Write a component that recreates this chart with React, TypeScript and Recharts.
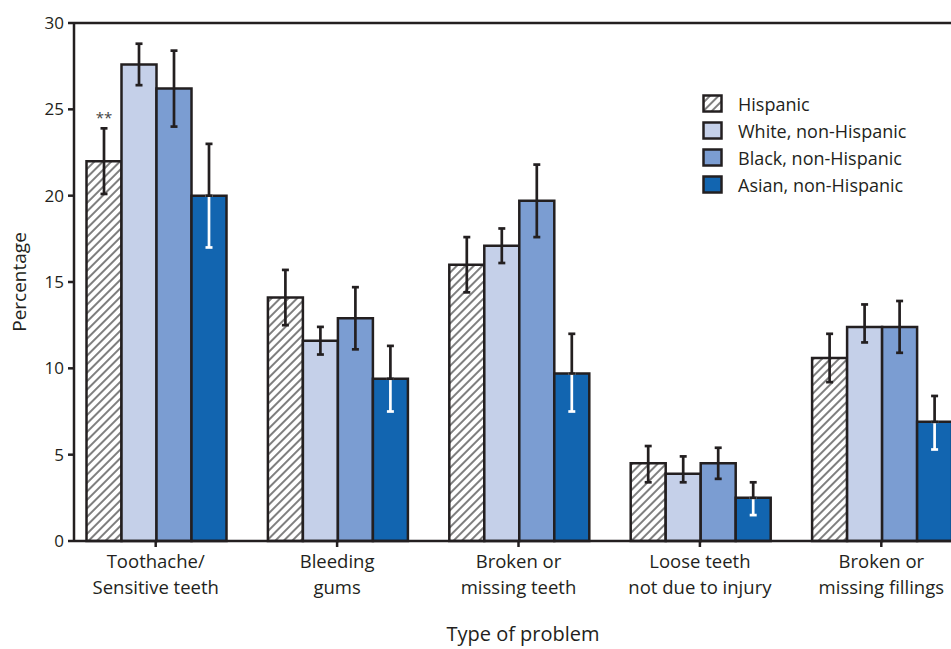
import React from "react";
import {
  BarChart,
  Bar,
  XAxis,
  YAxis,
  ErrorBar,
  ReferenceLine,
  Legend,
  LabelList,
  Label,
} from "recharts";

// ---------- data ----------
const categories = [
  "Toothache/\nSensitive teeth",
  "Bleeding\ngums",
  "Broken or\nmissing teeth",
  "Loose teeth\nnot due to injury",
  "Broken or\nmissing fillings",
];
const seriesNames = [
  "Hispanic",
  "White, non-Hispanic",
  "Black, non-Hispanic",
  "Asian, non-Hispanic",
];
const hispanic = [22.0, 14.1, 16.0, 4.5, 10.6];
const hispanicLow = [20.1, 12.5, 14.4, 3.4, 9.2];
const hispanicHigh = [23.9, 15.7, 17.6, 5.5, 12.0];
const white = [27.6, 11.6, 17.1, 3.9, 12.4];
const whiteLow = [26.4, 10.8, 16.1, 3.4, 11.5];
const whiteHigh = [28.8, 12.4, 18.1, 4.9, 13.7];
const black = [26.2, 12.9, 19.7, 4.5, 12.4];
const blackLow = [24.0, 11.1, 17.6, 3.6, 10.9];
const blackHigh = [28.4, 14.7, 21.8, 5.4, 13.9];
const asian = [20.0, 9.4, 9.7, 2.5, 6.9];
const asianLow = [17.0, 7.5, 7.5, 1.5, 5.3];
const asianHigh = [23.0, 11.3, 12.0, 3.4, 8.4];
const notes = ["**", "", "", "", ""];
const yTicks = [0, 5, 10, 15, 20, 25, 30];

// ---------- styles ----------
const FONT = "'Open Sans', 'Noto Sans', sans-serif";
const INK = "#231f20";
const COLORS = ["url(#hatch)", "#c5d0e9", "#7b9dd2", "#1265b0"];

const r1 = (v: number) => Math.round(v * 100) / 100;

const data = categories.map((name, i) => ({
  name,
  h: hispanic[i],
  hErr: [r1(hispanic[i] - hispanicLow[i]), r1(hispanicHigh[i] - hispanic[i])],
  w: white[i],
  wErr: [r1(white[i] - whiteLow[i]), r1(whiteHigh[i] - white[i])],
  b: black[i],
  bErr: [r1(black[i] - blackLow[i]), r1(blackHigh[i] - black[i])],
  a: asian[i],
  aDown: [r1(asian[i] - asianLow[i]), 0],
  aUp: [0, r1(asianHigh[i] - asian[i])],
  note: notes[i],
}));

const CatTick = (props: any) => {
  const { x, y, payload } = props;
  const lines = String(payload.value).split("\n");
  return (
    <g transform={`translate(${x},${y})`}>
      {lines.map((l, i) => (
        <text
          key={i}
          x={0}
          y={0}
          dy={19 + i * 26}
          textAnchor="middle"
          fill={INK}
          fontSize={18.5}
          fontFamily={FONT}
        >
          {l}
        </text>
      ))}
    </g>
  );
};

const LegendContent = () => (
  <div style={{ fontFamily: FONT, fontSize: 18, color: INK }}>
    {seriesNames.map((n, i) => (
      <div
        key={n}
        style={{ display: "flex", alignItems: "center", height: 27 }}
      >
        <svg width={22} height={20} style={{ marginRight: 14 }}>
          <rect
            x={1.5}
            y={1.5}
            width={18}
            height={16}
            fill={COLORS[i]}
            stroke={INK}
            strokeWidth={2.5}
          />
        </svg>
        <span>{n}</span>
      </div>
    ))}
  </div>
);

export default function App() {
  return (
    <div
      style={{
        position: "absolute",
        left: 0,
        top: 0,
        width: 951,
        height: 649,
        overflow: "hidden",
        background: "#fff",
      }}
    >
      <BarChart
        width={972}
        height={649}
        data={data}
        margin={{ top: 23, right: 0, left: 0, bottom: 0 }}
        barCategoryGap={21.5}
        barGap={0}
      >
        <defs>
          <pattern
            id="hatch"
            patternUnits="userSpaceOnUse"
            width={6}
            height={6}
            patternTransform="rotate(45)"
          >
            <rect x={0} y={0} width={6} height={6} fill="#ffffff" />
            <line x1={1} y1={0} x2={1} y2={6} stroke="#7f7f7f" strokeWidth={2} />
          </pattern>
        </defs>
        <XAxis
          dataKey="name"
          height={108}
          padding={{ left: -9, right: 0 }}
          tick={<CatTick />}
          tickSize={6}
          axisLine={{ stroke: INK, strokeWidth: 2.5 }}
          tickLine={{ stroke: INK, strokeWidth: 2.5 }}
          interval={0}
        >
          <Label
            value="Type of problem"
            position="insideBottom"
            offset={8}
            style={{ fontFamily: FONT, fontSize: 20, fill: INK }}
          />
        </XAxis>
        <YAxis
          width={74}
          domain={[0, 30]}
          ticks={yTicks}
          interval={0}
          tickSize={6}
          tickMargin={4}
          axisLine={{ stroke: INK, strokeWidth: 2.5 }}
          tickLine={{ stroke: INK, strokeWidth: 2.5 }}
          tick={{ fontFamily: FONT, fontSize: 17, fill: INK }}
        >
          <Label
            value="Percentage"
            angle={-90}
            position="insideLeft"
            offset={19}
            style={{
              fontFamily: FONT,
              fontSize: 19,
              fill: INK,
              textAnchor: "middle",
            }}
          />
        </YAxis>
        <ReferenceLine y={30} stroke={INK} strokeWidth={2.5} />
        <Legend
          layout="vertical"
          align="center"
          verticalAlign="middle"
          content={<LegendContent />}
          wrapperStyle={{ top: 90, left: 702, width: 245, height: 110 }}
        />
        <Bar
          dataKey="h"
          name={seriesNames[0]}
          fill={COLORS[0]}
          stroke={INK}
          strokeWidth={2.5}
          isAnimationActive={false}
        >
          <ErrorBar dataKey="hErr" width={3.5} stroke={INK} strokeWidth={2.7} />
          <LabelList
            dataKey="note"
            position="top"
            offset={38}
            style={{ fontFamily: FONT, fontSize: 15, fill: "#444" }}
          />
        </Bar>
        <Bar
          dataKey="w"
          name={seriesNames[1]}
          fill={COLORS[1]}
          stroke={INK}
          strokeWidth={2.5}
          isAnimationActive={false}
        >
          <ErrorBar dataKey="wErr" width={3.5} stroke={INK} strokeWidth={2.7} />
        </Bar>
        <Bar
          dataKey="b"
          name={seriesNames[2]}
          fill={COLORS[2]}
          stroke={INK}
          strokeWidth={2.5}
          isAnimationActive={false}
        >
          <ErrorBar dataKey="bErr" width={3.5} stroke={INK} strokeWidth={2.7} />
        </Bar>
        <Bar
          dataKey="a"
          name={seriesNames[3]}
          fill={COLORS[3]}
          stroke={INK}
          strokeWidth={2.5}
          isAnimationActive={false}
        >
          <ErrorBar dataKey="aDown" width={3.5} stroke="#ffffff" strokeWidth={2.7} />
          <ErrorBar dataKey="aUp" width={3.5} stroke={INK} strokeWidth={2.7} />
        </Bar>
      </BarChart>
    </div>
  );
}
